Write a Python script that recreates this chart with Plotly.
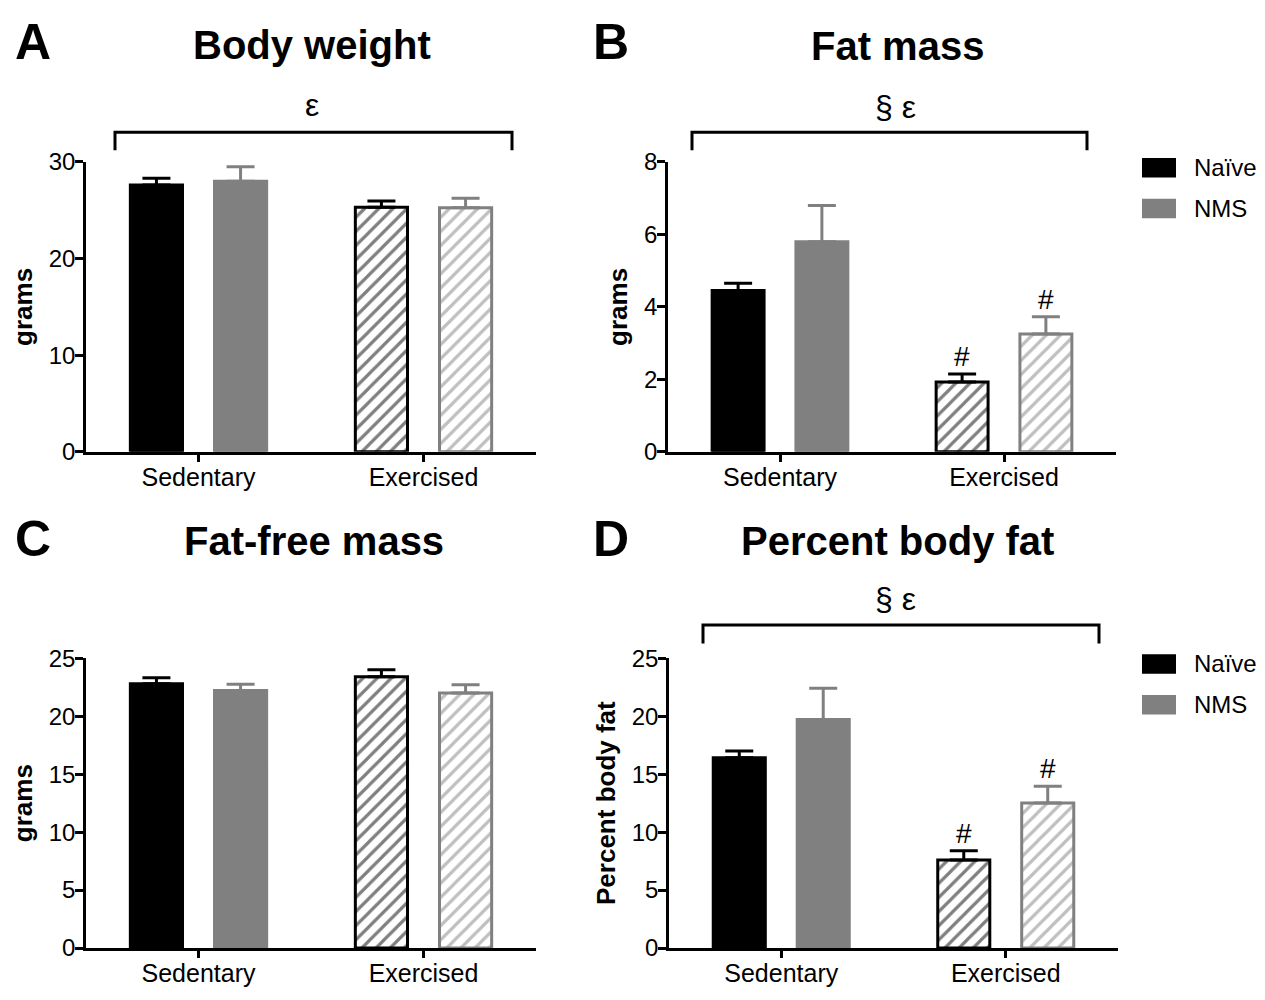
import plotly.graph_objects as go

W, H = 1265, 1000
FONT = "Liberation Sans, Arial, sans-serif"

# ---------------- data ----------------
categories = ["Sedentary", "Exercised"]
groups = ["Naïve", "NMS"]

bw_naive = [27.6, 25.3]
bw_naive_err = [0.7, 0.65]
bw_nms = [28.0, 25.25]
bw_nms_err = [1.5, 1.0]

fm_naive = [4.45, 1.93]
fm_naive_err = [0.2, 0.22]
fm_nms = [5.8, 3.25]
fm_nms_err = [1.0, 0.48]

ffm_naive = [22.8, 23.4]
ffm_naive_err = [0.5, 0.6]
ffm_nms = [22.2, 22.0]
ffm_nms_err = [0.55, 0.7]

pbf_naive = [16.4, 7.6]
pbf_naive_err = [0.6, 0.8]
pbf_nms = [19.7, 12.5]
pbf_nms_err = [2.7, 1.45]

y_ticks_bw = [0, 10, 20, 30]
y_ticks_fm = [0, 2, 4, 6, 8]
y_ticks_ffm = [0, 5, 10, 15, 20, 25]
y_ticks_pbf = [0, 5, 10, 15, 20, 25]

panel_titles = ["Body weight", "Fat mass", "Fat-free mass", "Percent body fat"]
panel_letters = ["A", "B", "C", "D"]
y_titles = ["grams", "grams", "grams", "Percent body fat"]
bracket_labels = ["ε", "§ ε", None, "§ ε"]
hash_label = "#"

# ---------------- styling ----------------
BLACK = "#000000"
GREY = "#808080"
group_colors = [BLACK, GREY]


def fx(px):
    return px / W


def fy(py):
    return 1 - py / H


panels = [
    dict(xa="x", ya="y", xd=(86, 536), yd=(152, 450),
         data=[(bw_naive, bw_naive_err), (bw_nms, bw_nms_err)], ticks=y_ticks_bw),
    dict(xa="x2", ya="y2", xd=(668, 1116), yd=(152, 450),
         data=[(fm_naive, fm_naive_err), (fm_nms, fm_nms_err)], ticks=y_ticks_fm),
    dict(xa="x3", ya="y3", xd=(86, 536), yd=(662, 960),
         data=[(ffm_naive, ffm_naive_err), (ffm_nms, ffm_nms_err)], ticks=y_ticks_ffm),
    dict(xa="x4", ya="y4", xd=(669, 1118), yd=(662, 960),
         data=[(pbf_naive, pbf_naive_err), (pbf_nms, pbf_nms_err)], ticks=y_ticks_pbf),
]

fig = go.Figure()

for p in panels:
    for gi, (vals, errs) in enumerate(p["data"]):
        c = group_colors[gi]
        for ci, cat in enumerate(categories):
            hatched = (ci == 1)
            if hatched:
                marker = dict(color="white", line=dict(color=c, width=3),
                              pattern=dict(shape="/", fgcolor=c, bgcolor="white",
                                           size=10, solidity=0.32))
            else:
                marker = dict(color=c, line=dict(color=c, width=3))
            fig.add_trace(go.Bar(
                x=[cat], y=[vals[ci]], name=groups[gi], offsetgroup=groups[gi],
                xaxis=p["xa"], yaxis=p["ya"], showlegend=False,
                marker=marker,
                error_y=dict(type="data", symmetric=False, array=[errs[ci]], arrayminus=[0],
                             color=c, thickness=3, width=14),
            ))

layout = dict(
    width=W, height=H,
    margin=dict(l=0, r=0, t=0, b=0),
    paper_bgcolor="white", plot_bgcolor="white",
    barmode="group", bargap=0.252, bargroupgap=0.38,
    font=dict(family=FONT, color=BLACK, size=24),
    showlegend=False,
)

for i, p in enumerate(panels):
    xkey = "xaxis" if i == 0 else f"xaxis{i+1}"
    ykey = "yaxis" if i == 0 else f"yaxis{i+1}"
    layout[xkey] = dict(
        domain=[fx(p["xd"][0]), fx(p["xd"][1])], anchor=p["ya"],
        type="category", categoryorder="array", categoryarray=categories, range=[-0.5, 1.5],
        showline=True, linecolor=BLACK, linewidth=2.5,
        ticks="outside", ticklen=7, tickwidth=2.5, tickcolor=BLACK,
        tickfont=dict(family=FONT, size=25, color=BLACK), ticklabelstandoff=-6,
        showgrid=False, zeroline=False, fixedrange=True,
    )
    layout[ykey] = dict(
        domain=[fy(p["yd"][1]), fy(p["yd"][0])], anchor=p["xa"],
        range=[p["ticks"][0], p["ticks"][-1]], tickvals=p["ticks"],
        showline=True, linecolor=BLACK, linewidth=2.5,
        ticks="outside", ticklen=8, tickwidth=2.5, tickcolor=BLACK,
        tickfont=dict(family=FONT, size=24, color=BLACK), ticklabelstandoff=-5,
        showgrid=False, zeroline=False, fixedrange=True,
        title=dict(text=y_titles[i], font=dict(family=FONT, size=26, color=BLACK, weight="bold"),
                   standoff=9),
    )

fig.update_layout(**layout)

annotations = []
shapes = []

# titles and panel letters
title_pos = [(312, 32), (897, 33), (314, 542), (897, 542)]
letter_pos = [(13, 29), (591, 29), (13, 540), (591, 540)]
for i in range(4):
    annotations.append(dict(text=panel_titles[i], x=fx(title_pos[i][0]), y=fy(title_pos[i][1]),
                            xref="paper", yref="paper", xanchor="center", yanchor="middle",
                            showarrow=False,
                            font=dict(family=FONT, size=40, color=BLACK, weight="bold")))
    annotations.append(dict(text=panel_letters[i], x=fx(letter_pos[i][0]), y=fy(letter_pos[i][1]),
                            xref="paper", yref="paper", xanchor="left", yanchor="middle",
                            showarrow=False,
                            font=dict(family=FONT, size=50, color=BLACK, weight="bold")))

# brackets with significance symbols
brackets = [(115, 512, 121.5, 140, 312, 93.5), (692, 1087, 121.5, 140, 895, 96),
            None, (703, 1099, 628, 647, 895, 601)]
for i, b in enumerate(brackets):
    if b is None:
        continue
    x1, x2, yt, yb, tx, ty = b
    shapes.append(dict(type="path", xref="paper", yref="paper",
                       path=f"M {fx(x1)},{fy(yb)} L {fx(x1)},{fy(yt)} L {fx(x2)},{fy(yt)} L {fx(x2)},{fy(yb)}",
                       line=dict(color=BLACK, width=3)))
    annotations.append(dict(text=bracket_labels[i], x=fx(tx), y=fy(ty), xref="paper", yref="paper",
                            xanchor="center", yanchor="middle", showarrow=False,
                            font=dict(family=FONT, size=32, color=BLACK)))

# '#' markers above exercised bars (panels B and D)
for i in (1, 3):
    p = panels[i]
    for gi, (vals, errs) in enumerate(p["data"]):
        annotations.append(dict(text=hash_label, x=categories[1], y=vals[1] + errs[1],
                                xref=p["xa"], yref=p["ya"], xshift=(-42 if gi == 0 else 42),
                                xanchor="center", yanchor="bottom", showarrow=False,
                                font=dict(family=FONT, size=28, color=BLACK)))

# manual legends for panels B and D
for ly in (148, 658):
    for gi in range(2):
        top = ly + gi * 42
        shapes.append(dict(type="rect", xref="paper", yref="paper",
                           x0=fx(1142), x1=fx(1176), y0=fy(top + 20), y1=fy(top),
                           fillcolor=group_colors[gi], line=dict(width=0)))
        annotations.append(dict(text=groups[gi], x=fx(1192), y=fy(top + 10),
                                xref="paper", yref="paper", xanchor="left", yanchor="middle",
                                showarrow=False, font=dict(family=FONT, size=24, color=BLACK)))

fig.update_layout(annotations=annotations, shapes=shapes)
fig.write_html("out.html", config={"displayModeBar": False},
               post_script="document.body.style.margin='0px';document.body.style.overflow='hidden';")
